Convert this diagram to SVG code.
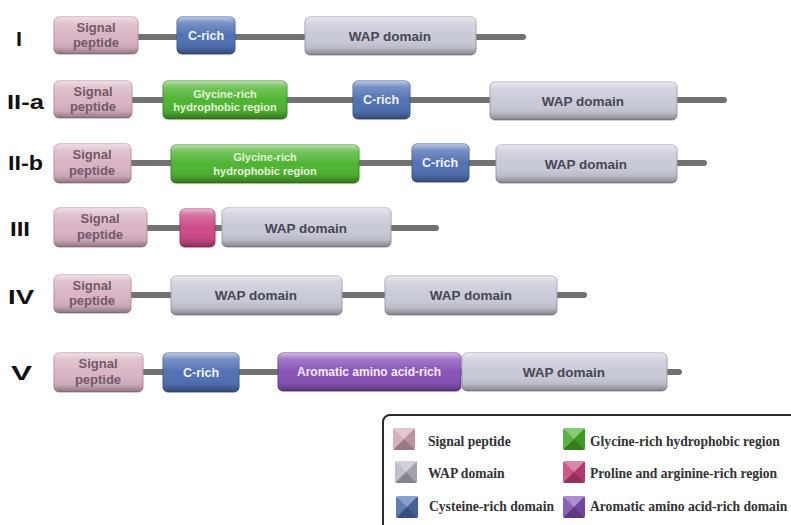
<svg xmlns="http://www.w3.org/2000/svg" xmlns:xlink="http://www.w3.org/1999/xlink" width="791" height="525" viewBox="0 0 791 525">
<defs>
<linearGradient id="shade" x1="0" y1="0" x2="0" y2="1">
<stop offset="0" stop-color="#fff" stop-opacity="0.6"/>
<stop offset="0.16" stop-color="#fff" stop-opacity="0.22"/>
<stop offset="0.5" stop-color="#fff" stop-opacity="0"/>
<stop offset="0.82" stop-color="#000" stop-opacity="0.08"/>
<stop offset="1" stop-color="#000" stop-opacity="0.35"/>
</linearGradient>
<g id="pyr">
<polygon points="0,0 22,0 11,11" fill="#fff" fill-opacity="0.35"/>
<polygon points="0,0 11,11 0,22" fill="#fff" fill-opacity="0.1"/>
<polygon points="22,0 22,22 11,11" fill="#000" fill-opacity="0.12"/>
<polygon points="0,22 11,11 22,22" fill="#000" fill-opacity="0.28"/>
</g>
</defs>
<style>
.lbl{font-family:"Liberation Sans",Arial,sans-serif;font-weight:bold;font-size:20px;fill:#111}
.t{font-family:"Liberation Sans",Arial,sans-serif;font-weight:bold;text-anchor:middle}
.sp{fill:#d9b4c5;stroke:#b58e9c;stroke-width:1}
.sptx{fill:#735868;font-size:13px}
.cr{fill:#5272b4;stroke:#3f5c98;stroke-width:1}
.crtx{fill:#f2f4fa;font-size:12.5px}
.wap{fill:#c9cad7;stroke:#9c9daa;stroke-width:1}
.waptx{fill:#474753;font-size:13.5px}
.gly{fill:#4fb432;stroke:#37901f;stroke-width:1}
.glytx{fill:#e3f4d6;font-size:11px}
.pro{fill:#cd4a86;stroke:#a8346a;stroke-width:1}
.aro{fill:#8853b8;stroke:#693d96;stroke-width:1}
.arotx{fill:#f4eefa;font-size:12px}
.sh{fill:url(#shade);stroke:none}
.ln{stroke:#727272;stroke-width:6;stroke-linecap:round;fill:none}
.lg{font-family:"Liberation Serif","Times New Roman",serif;font-weight:bold;font-size:13.6px;fill:#333}
</style>
<rect width="791" height="525" fill="#fff"/>

<g id="connectors">
<line class="ln" x1="130" y1="37" x2="523" y2="37"/>
<line class="ln" x1="125" y1="100" x2="724" y2="100"/>
<line class="ln" x1="125" y1="163" x2="704" y2="163"/>
<line class="ln" x1="140" y1="228" x2="436" y2="228"/>
<line class="ln" x1="125" y1="295" x2="584" y2="295"/>
<line class="ln" x1="135" y1="372" x2="679" y2="372"/>
</g>

<g id="row-labels">
<text class="lbl" x="16" y="46" textLength="6" lengthAdjust="spacingAndGlyphs">I</text>
<text class="lbl" x="7" y="109" textLength="37" lengthAdjust="spacingAndGlyphs">II-a</text>
<text class="lbl" x="8" y="170" textLength="35" lengthAdjust="spacingAndGlyphs">II-b</text>
<text class="lbl" x="10" y="236" textLength="20" lengthAdjust="spacingAndGlyphs">III</text>
<text class="lbl" x="8" y="304" textLength="26" lengthAdjust="spacingAndGlyphs">IV</text>
<text class="lbl" x="11" y="380" textLength="21" lengthAdjust="spacingAndGlyphs">V</text>
</g>

<!-- Row I -->
<g id="I-signal"><rect class="sp" x="54" y="17" width="84" height="37" rx="5"/><rect class="sh" x="54" y="17" width="84" height="37" rx="5"/><text class="t sptx" x="96" y="32">Signal</text><text class="t sptx" x="96" y="47">peptide</text></g>
<g id="I-crich"><rect class="cr" x="177" y="17" width="58" height="37" rx="5"/><rect class="sh" x="177" y="17" width="58" height="37" rx="5"/><text class="t crtx" x="206" y="40">C-rich</text></g>
<g id="I-wap"><rect class="wap" x="305" y="17" width="171" height="38" rx="5"/><rect class="sh" x="305" y="17" width="171" height="38" rx="5"/><text class="t waptx" x="390" y="41">WAP domain</text></g>

<!-- Row II-a -->
<g id="IIa-signal"><rect class="sp" x="54" y="81" width="78" height="37" rx="5"/><rect class="sh" x="54" y="81" width="78" height="37" rx="5"/><text class="t sptx" x="93" y="96">Signal</text><text class="t sptx" x="93" y="111">peptide</text></g>
<g id="IIa-gly"><rect class="gly" x="163" y="81" width="124" height="38" rx="5"/><rect class="sh" x="163" y="81" width="124" height="38" rx="5"/><text class="t glytx" x="225" y="98">Glycine-rich</text><text class="t glytx" x="225" y="111">hydrophobic region</text></g>
<g id="IIa-crich"><rect class="cr" x="353" y="81" width="57" height="38" rx="5"/><rect class="sh" x="353" y="81" width="57" height="38" rx="5"/><text class="t crtx" x="381" y="104">C-rich</text></g>
<g id="IIa-wap"><rect class="wap" x="490" y="82" width="187" height="38" rx="5"/><rect class="sh" x="490" y="82" width="187" height="38" rx="5"/><text class="t waptx" x="583" y="106">WAP domain</text></g>

<!-- Row II-b -->
<g id="IIb-signal"><rect class="sp" x="54" y="144" width="77" height="39" rx="5"/><rect class="sh" x="54" y="144" width="77" height="39" rx="5"/><text class="t sptx" x="92" y="159">Signal</text><text class="t sptx" x="92" y="175">peptide</text></g>
<g id="IIb-gly"><rect class="gly" x="171" y="145" width="188" height="38" rx="5"/><rect class="sh" x="171" y="145" width="188" height="38" rx="5"/><text class="t glytx" x="265" y="161">Glycine-rich</text><text class="t glytx" x="265" y="175">hydrophobic region</text></g>
<g id="IIb-crich"><rect class="cr" x="412" y="144" width="57" height="38" rx="5"/><rect class="sh" x="412" y="144" width="57" height="38" rx="5"/><text class="t crtx" x="440" y="167">C-rich</text></g>
<g id="IIb-wap"><rect class="wap" x="496" y="145" width="181" height="38" rx="5"/><rect class="sh" x="496" y="145" width="181" height="38" rx="5"/><text class="t waptx" x="586" y="169">WAP domain</text></g>

<!-- Row III -->
<g id="III-signal"><rect class="sp" x="54" y="208" width="93" height="39" rx="5"/><rect class="sh" x="54" y="208" width="93" height="39" rx="5"/><text class="t sptx" x="100" y="223">Signal</text><text class="t sptx" x="100" y="239">peptide</text></g>
<g id="III-pro"><rect class="pro" x="180" y="209" width="35" height="38" rx="5"/><rect class="sh" x="180" y="209" width="35" height="38" rx="5"/></g>
<g id="III-wap"><rect class="wap" x="222" y="208" width="169" height="39" rx="5"/><rect class="sh" x="222" y="208" width="169" height="39" rx="5"/><text class="t waptx" x="306" y="233">WAP domain</text></g>

<!-- Row IV -->
<g id="IV-signal"><rect class="sp" x="54" y="275" width="77" height="38" rx="5"/><rect class="sh" x="54" y="275" width="77" height="38" rx="5"/><text class="t sptx" x="92" y="290">Signal</text><text class="t sptx" x="92" y="305">peptide</text></g>
<g id="IV-wap1"><rect class="wap" x="171" y="276" width="171" height="39" rx="5"/><rect class="sh" x="171" y="276" width="171" height="39" rx="5"/><text class="t waptx" x="256" y="300">WAP domain</text></g>
<g id="IV-wap2"><rect class="wap" x="385" y="276" width="172" height="39" rx="5"/><rect class="sh" x="385" y="276" width="172" height="39" rx="5"/><text class="t waptx" x="471" y="300">WAP domain</text></g>

<!-- Row V -->
<g id="V-signal"><rect class="sp" x="54" y="353" width="89" height="39" rx="5"/><rect class="sh" x="54" y="353" width="89" height="39" rx="5"/><text class="t sptx" x="98" y="368">Signal</text><text class="t sptx" x="98" y="384">peptide</text></g>
<g id="V-crich"><rect class="cr" x="163" y="353" width="76" height="39" rx="5"/><rect class="sh" x="163" y="353" width="76" height="39" rx="5"/><text class="t crtx" x="201" y="377">C-rich</text></g>
<g id="V-aro"><rect class="aro" x="278" y="353" width="183" height="38" rx="5"/><rect class="sh" x="278" y="353" width="183" height="38" rx="5"/><text class="t arotx" x="369" y="376">Aromatic amino acid-rich</text></g>
<g id="V-wap"><rect class="wap" x="462" y="353" width="205" height="38" rx="5"/><rect class="sh" x="462" y="353" width="205" height="38" rx="5"/><text class="t waptx" x="564" y="377">WAP domain</text></g>

<!-- Legend -->
<g id="legend">
<rect x="383" y="415" width="430" height="130" rx="7" fill="#fff" stroke="#2a2a2a" stroke-width="2"/>
<g transform="translate(393,428)"><rect width="22" height="22" rx="2" fill="#d4a9b9"/><use xlink:href="#pyr"/></g>
<g transform="translate(395,461)"><rect width="22" height="22" rx="2" fill="#b8b9c6"/><use xlink:href="#pyr"/></g>
<g transform="translate(396,496)"><rect width="22" height="22" rx="2" fill="#4f6fae"/><use xlink:href="#pyr"/></g>
<g transform="translate(563,428)"><rect width="22" height="22" rx="2" fill="#47ad2c"/><use xlink:href="#pyr"/></g>
<g transform="translate(563,461)"><rect width="22" height="22" rx="2" fill="#c9457f"/><use xlink:href="#pyr"/></g>
<g transform="translate(563,496)"><rect width="22" height="22" rx="2" fill="#8150b2"/><use xlink:href="#pyr"/></g>
<text class="lg" x="428" y="446">Signal peptide</text>
<text class="lg" x="428" y="478">WAP domain</text>
<text class="lg" x="429" y="511">Cysteine-rich domain</text>
<text class="lg" x="590" y="446">Glycine-rich hydrophobic region</text>
<text class="lg" x="590" y="478">Proline and arginine-rich region</text>
<text class="lg" x="590" y="511">Aromatic amino acid-rich domain</text>
</g>
</svg>
